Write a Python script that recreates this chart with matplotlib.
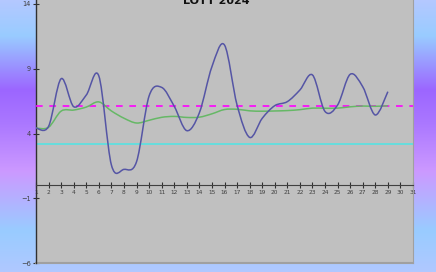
import numpy as np
import matplotlib
matplotlib.use('Agg')
import matplotlib.pyplot as plt
from matplotlib.path import Path
from matplotlib.patches import PathPatch
from matplotlib.colors import LinearSegmentedColormap

# daily values
days = list(range(1, 30))
values = [4.42, 4.55, 8.23, 6.07, 6.97, 8.44, 1.57, 1.23, 1.82, 6.9,
          7.56, 6.1, 4.22, 5.6, 9.16, 10.83, 6.2, 3.7, 5.17, 6.15,
          6.46, 7.36, 8.52, 5.7, 6.2, 8.57, 7.61, 5.43, 7.23]
# running average (green)
running = [4.42, 4.48, 5.73, 5.81, 6.04, 6.44, 5.74, 5.18, 4.81, 5.02,
           5.25, 5.32, 5.24, 5.26, 5.52, 5.85, 5.87, 5.75, 5.72, 5.74,
           5.77, 5.84, 5.96, 5.95, 5.96, 6.06, 6.12, 6.10, 6.14]
mean_line = 6.12
target_line = 3.2
xticks = list(range(1, 32))
yticks = [-6, -1, 4, 9, 14]
title = 'LOTT 2024'


def smooth(xs, ys):
    pts = np.column_stack([xs, ys]).astype(float)
    n = len(pts)
    verts = [pts[0]]
    codes = [Path.MOVETO]
    for i in range(n - 1):
        p0 = pts[max(i - 1, 0)]
        p1 = pts[i]
        p2 = pts[i + 1]
        p3 = pts[min(i + 2, n - 1)]
        verts += [p1 + (p2 - p0) / 6, p2 - (p3 - p1) / 6, p2]
        codes += [Path.CURVE4] * 3
    return Path(verts, codes)


fig = plt.figure(figsize=[4.36, 2.72], dpi=100)

# background gradient
bg = fig.add_axes([0, 0, 1, 1], zorder=-1)
cmap = LinearSegmentedColormap.from_list('bg', [
    (0.0, '#b4c8ff'), (0.13, '#99ccff'), (0.33, '#9c66ff'),
    (0.45, '#aa77ff'), (0.63, '#cc99ff'), (0.85, '#99ccff'), (1.0, '#b0c8ff')])
bg.imshow(np.linspace(0, 1, 256).reshape(-1, 1), aspect='auto', cmap=cmap,
          extent=[0, 1, 0, 1])
bg.axis('off')

ax = fig.add_axes([36 / 436, 9 / 272, 377 / 436, 263 / 272])
ax.set_facecolor('#c0c0c0')
ax.set_xlim(1, 31)
ax.set_ylim(-6, 14 + 4 / 12.95)

ax.axhline(target_line, color='#66dddd', linewidth=1.4, zorder=2)
ax.axhline(mean_line, color='#ff00ff', linewidth=1.2, dashes=(4, 4), zorder=3)
ax.add_patch(PathPatch(smooth(days, running), facecolor='none',
                       edgecolor='#66b866', linewidth=1.1, zorder=4))
ax.add_patch(PathPatch(smooth(days, values), facecolor='none',
                       edgecolor='#5555a5', linewidth=1.1, zorder=5))

ax.spines['bottom'].set_position(('data', 0))
ax.spines['bottom'].set_color('#404040')
ax.spines['left'].set_color('#303030')
ax.spines['left'].set_linewidth(1.0)
ax.spines['top'].set_visible(False)
ax.spines['right'].set_color('#a0a0a0')
ax.axhline(-6, color='#a0a0a0', linewidth=1.5, clip_on=False)

ax.set_xticks(xticks)
ax.set_yticks(yticks)
ax.tick_params(axis='x', direction='inout', length=5, width=0.8,
               color='#303030', labelsize=4.2, labelcolor='#404040', pad=1)
ax.tick_params(axis='y', direction='inout', length=5, width=0.8,
               color='#303030', labelsize=4.8, labelcolor='#404040', pad=1)

fig.text(0.497, 1 - 4.5 / 272, title, ha='center', va='baseline',
         fontsize=8, fontweight='bold', color='#111111')

fig.savefig('out.png', dpi=100)
